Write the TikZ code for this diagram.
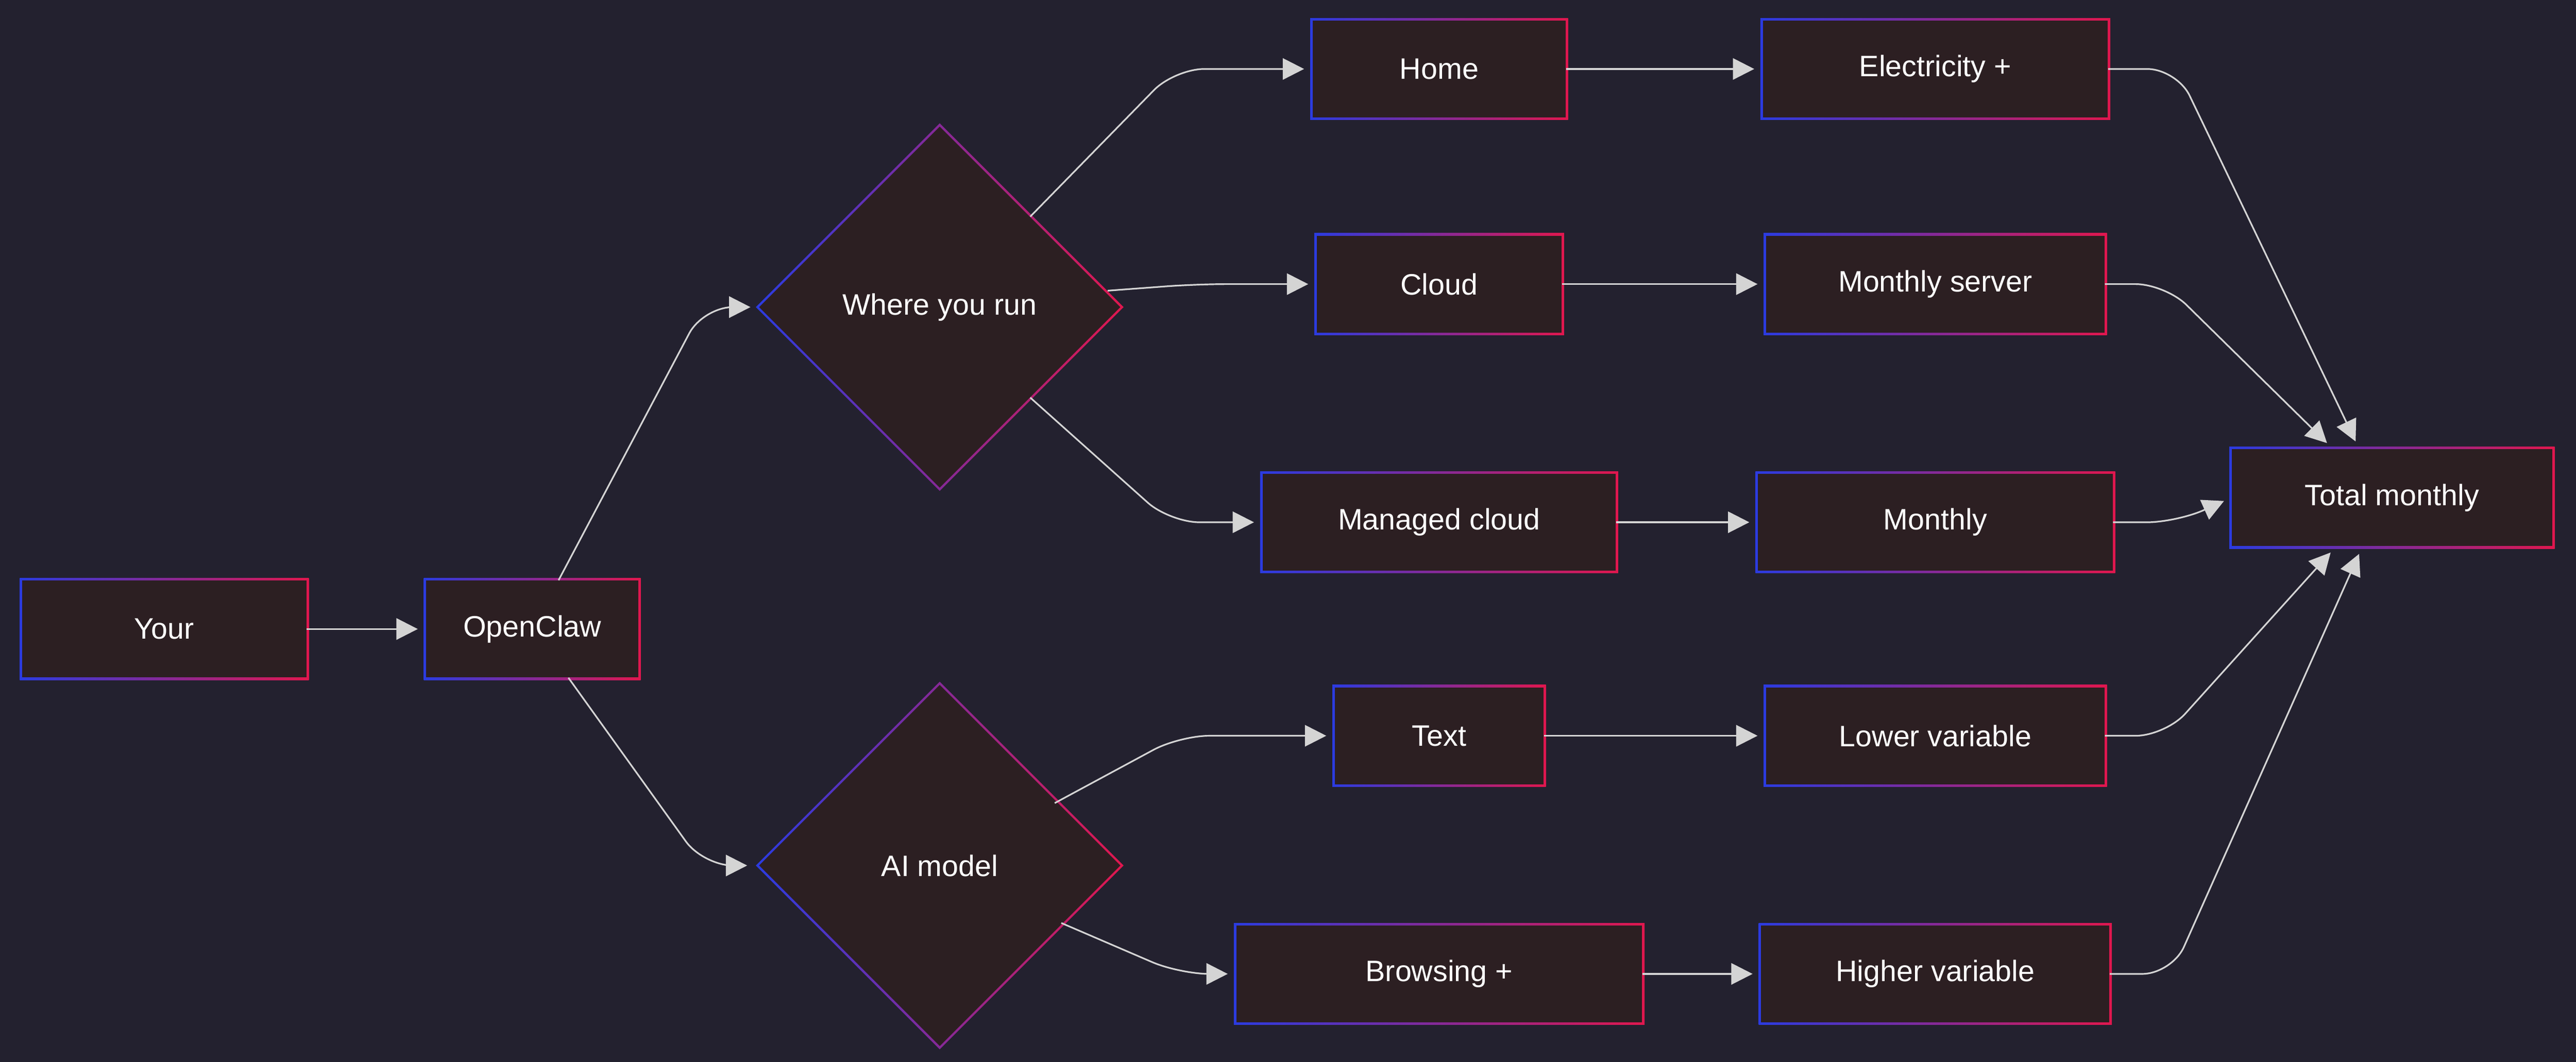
\documentclass[tikz,border=0pt]{standalone}
\usepackage{fontspec}
\setmainfont{Liberation Sans}
\usetikzlibrary{shapes.geometric,arrows.meta}
\definecolor{bg}{HTML}{23212F}
\definecolor{nf}{HTML}{2C1F22}
\definecolor{bl}{HTML}{2B3BE0}
\definecolor{rd}{HTML}{E0174E}
\definecolor{ln}{HTML}{D4D4D4}
\tikzset{
  outer/.style={rectangle,inner sep=0,shade,shading=axis,left color=bl,right color=rd,minimum height=62pt},
  inner/.style={rectangle,inner sep=0,fill=nf,text=white,font=\fontsize{18}{22}\selectfont,minimum height=59pt},
  douter/.style={diamond,inner sep=0,shade,shading=axis,left color=bl,right color=rd,minimum width=224pt,minimum height=224pt},
  dinner/.style={diamond,inner sep=0,fill=nf,text=white,font=\fontsize{18}{22}\selectfont,minimum width=220pt,minimum height=220pt},
  conn/.style={draw=ln,line width=1pt,rounded corners=18pt,shorten >=5pt,-{Triangle[length=13pt,width=13pt]}},
}
\newcommand{\bx}[5]{\node[outer,minimum width=#4 pt] at (#2,#3) {}; \node[inner,minimum width=#4 pt-3pt] (#1) at (#2,#3) {#5};}
\newcommand{\dm}[4]{\node[douter] at (#2,#3) {}; \node[dinner] (#1) at (#2,#3) {#4};}
\begin{document}
\begin{tikzpicture}[x=1pt,y=-1pt]
\fill[bg] (0,0) rectangle (1568,646.5);
\useasboundingbox (0,0) rectangle (1568,646.5);
\bx{your}{100}{383}{176}{Your}
\bx{oc}{324}{383}{132}{OpenClaw}
\dm{where}{572}{187}{Where you run}
\dm{ai}{572}{527}{AI model}
\bx{home}{876}{42}{157}{Home}
\bx{elec}{1178}{42}{213}{Electricity +}
\bx{cloud}{876}{173}{152}{Cloud}
\bx{mserv}{1178}{173}{209}{Monthly server}
\bx{man}{876}{318}{218}{Managed cloud}
\bx{mon}{1178}{318}{219}{Monthly}
\bx{tot}{1456}{303}{198}{Total monthly}
\bx{text}{876}{448}{130}{Text}
\bx{low}{1178}{448}{209}{Lower variable}
\bx{brow}{876}{593}{250}{Browsing +}
\bx{high}{1178}{593}{215}{Higher variable}
\draw[conn] (your.east) -- (oc.west);
\draw[conn] ([xshift=16pt]oc.north) -- (428,187) -- (where.west);
\draw[conn] ([xshift=22pt]oc.south) -- (428,527) -- ([xshift=-2pt]ai.west);
\draw[conn] (where.north east) -- (715,42) -- (home.west);
\draw[conn] ([xshift=-8pt,yshift=10pt]where.east) -- (728,173) -- (cloud.west);
\draw[conn] (where.south east) -- (712,318) -- (man.west);
\draw[conn] ([xshift=70pt,yshift=38pt]ai.center) -- (718,448) -- (text.west);
\draw[conn] ([xshift=74pt,yshift=-35pt]ai.center) -- (718,593) -- (brow.west);
\draw[conn] (home.east) -- (elec.west);
\draw[conn] (cloud.east) -- (mserv.west);
\draw[conn] (man.east) -- (mon.west);
\draw[conn] (text.east) -- (low.west);
\draw[conn] (brow.east) -- (high.west);
\draw[conn] (elec.east) -- (1325,42) -- ([xshift=-20pt]tot.north);
\draw[conn] (mserv.east) -- (1318,173) -- ([xshift=-36pt]tot.north);
\draw[conn] (mon.east) -- (1325,318) -- (tot.west);
\draw[conn] (low.east) -- (1318,448) -- ([xshift=-34pt]tot.south);
\draw[conn] (high.east) -- (1322,593) -- ([xshift=-18pt]tot.south);
\end{tikzpicture}
\end{document}
